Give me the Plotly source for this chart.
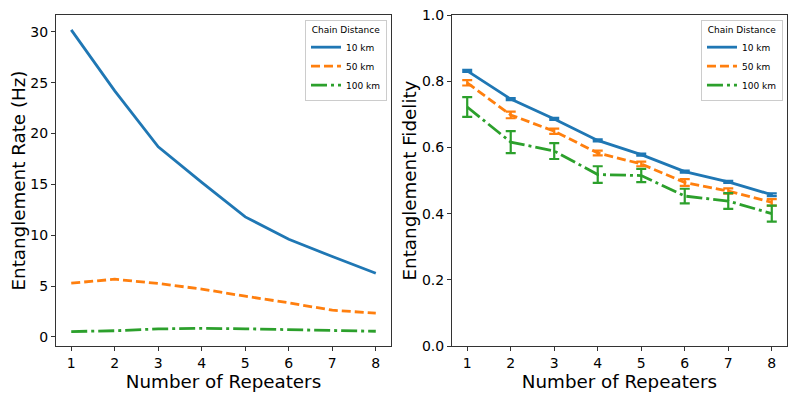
import plotly.graph_objects as go

repeaters = [1, 2, 3, 4, 5, 6, 7, 8]
series_names = ["10 km", "50 km", "100 km"]

rate_10 = [30.2, 24.2, 18.7, 15.2, 11.8, 9.6, 7.9, 6.25]
rate_50 = [5.28, 5.67, 5.25, 4.7, 4.0, 3.35, 2.62, 2.33]
rate_100 = [0.52, 0.6, 0.78, 0.84, 0.79, 0.7, 0.64, 0.55]

fid_10 = [0.831, 0.746, 0.686, 0.621, 0.578, 0.527, 0.496, 0.457]
fid_10_err = [0.003, 0.003, 0.003, 0.003, 0.003, 0.003, 0.003, 0.004]
fid_50 = [0.795, 0.698, 0.649, 0.583, 0.550, 0.494, 0.468, 0.434]
fid_50_err = [0.008, 0.010, 0.008, 0.007, 0.007, 0.010, 0.008, 0.010]
fid_100 = [0.722, 0.616, 0.589, 0.518, 0.515, 0.453, 0.438, 0.400]
fid_100_err = [0.030, 0.033, 0.024, 0.025, 0.020, 0.022, 0.024, 0.024]

colors = ["#1f77b4", "#ff7f0e", "#2ca02c"]
dashes = ["solid", "9px,4px", "16px,4px,3px,4px"]

rates = [rate_10, rate_50, rate_100]
fids = [fid_10, fid_50, fid_100]
fid_errs = [fid_10_err, fid_50_err, fid_100_err]

fig = go.Figure()
for name, y, c, d in zip(series_names, rates, colors, dashes):
    fig.add_trace(go.Scatter(x=repeaters, y=y, mode="lines", name=name,
                             line=dict(color=c, width=2.8, dash=d),
                             xaxis="x", yaxis="y", legend="legend"))
for name, y, e, c, d in zip(series_names, fids, fid_errs, colors, dashes):
    fig.add_trace(go.Scatter(x=repeaters, y=y, mode="lines", name=name,
                             line=dict(color=c, width=2.8, dash=d),
                             error_y=dict(type="data", array=e, color=c,
                                          thickness=2.2, width=5),
                             xaxis="x2", yaxis="y2", legend="legend2"))

font = "DejaVu Sans, Arial, sans-serif"
axis_common = dict(showline=True, mirror=True, linecolor="#333", linewidth=1,
                   ticks="outside", ticklen=4, tickcolor="#333",
                   showgrid=False, zeroline=False, automargin=False,
                   ticklabeloverflow="allow",
                   tickfont=dict(size=14, color="black", family=font))

x_dom_left = [0, 0.4583]
x_dom_right = [0.5417, 1]
title_size = 18.3

# The page body has an 8px default margin; the figure is sized to fill the rest.
fig.update_layout(
    width=789, height=391,
    margin=dict(l=48, r=10, t=7, b=53),
    paper_bgcolor="white", plot_bgcolor="white",
    font=dict(family=font, color="black"),
    xaxis=dict(domain=x_dom_left, range=[0.65, 8.35], tickvals=repeaters,
               title=dict(text="Number of Repeaters", font=dict(size=title_size), standoff=0),
               anchor="y", **axis_common),
    yaxis=dict(domain=[0, 1], range=[-0.9, 31.66], tickvals=[0, 5, 10, 15, 20, 25, 30],
               title=dict(text="Entanglement Rate (Hz)", font=dict(size=title_size), standoff=7),
               anchor="x", **axis_common),
    xaxis2=dict(domain=x_dom_right, range=[0.65, 8.35], tickvals=repeaters,
                title=dict(text="Number of Repeaters", font=dict(size=title_size), standoff=0),
                anchor="y2", **axis_common),
    yaxis2=dict(domain=[0, 1], range=[0, 1], tickvals=[0, 0.2, 0.4, 0.6, 0.8, 1.0],
                tickformat=".1f",
                title=dict(text="Entanglement Fidelity", font=dict(size=title_size), standoff=0),
                anchor="x2", **axis_common),
    legend=dict(x=0.4528, y=0.985, xanchor="right", yanchor="top",
                bgcolor="white", bordercolor="#ccc", borderwidth=1,
                font=dict(size=9), tracegroupgap=0,
                title=dict(text="Chain Distance", side="top center", font=dict(size=9))),
    legend2=dict(x=0.9945, y=0.985, xanchor="right", yanchor="top",
                 bgcolor="white", bordercolor="#ccc", borderwidth=1,
                 font=dict(size=9), tracegroupgap=0,
                 title=dict(text="Chain Distance", side="top center", font=dict(size=9))),
)

fig.write_html("out.html")
